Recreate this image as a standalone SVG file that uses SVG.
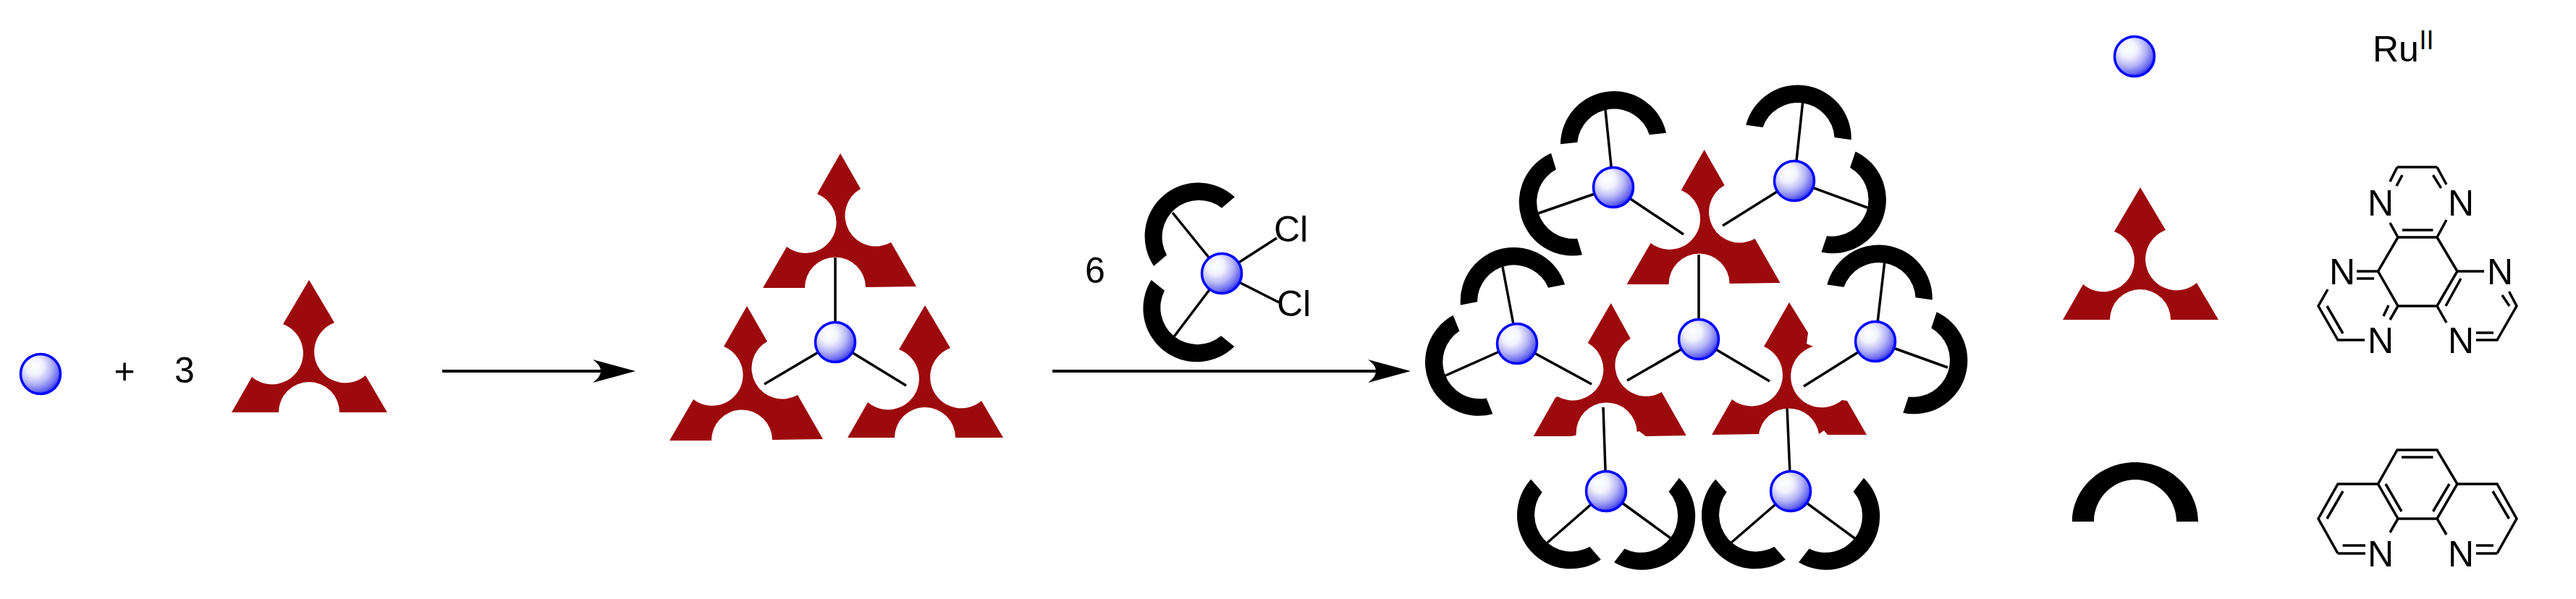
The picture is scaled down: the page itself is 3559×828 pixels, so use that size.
<svg xmlns="http://www.w3.org/2000/svg" xmlns:xlink="http://www.w3.org/1999/xlink" width="3559" height="828" viewBox="0 0 3559 828">
<style>
text{font-family:"Liberation Sans",Arial,sans-serif;font-size:50px;fill:#000}
.sp{stroke:#000;stroke-width:3.5;fill:none}
.bd{stroke:#000;stroke-width:3.5;fill:none;stroke-linecap:butt;stroke-linejoin:miter}
.ar{stroke:#000;stroke-width:4;fill:none;marker-end:url(#head)}
.red{fill:#9d0a0e}
.blk{fill:#000}
.ball{fill:url(#bg);stroke:#0000ff;stroke-width:3.5}
</style>
<defs>
<radialGradient id="bg" cx="0.36" cy="0.33" r="0.72" fx="0.34" fy="0.3">
<stop offset="0" stop-color="#ffffff"/><stop offset="0.3" stop-color="#f2f2fe"/><stop offset="0.6" stop-color="#b5b5f6"/><stop offset="0.85" stop-color="#6a6af0"/><stop offset="1" stop-color="#2020ee"/>
</radialGradient>
<marker id="head" markerUnits="userSpaceOnUse" markerWidth="60" markerHeight="34" refX="29" refY="17" orient="auto" viewBox="0 0 60 34">
<path d="M0,1L59,17L0,33Q22,17 0,1Z" fill="#000"/>
</marker>
<path id="lig" class="red" d="M0,0L35,59A43,43 0 1 0 78,132L108,183L42,183A42,42 0 0 0 -42,183L-107,183L-79,134A43,43 0 1 0 -36,61Z"/>
<path id="ligA" class="red" d="M0,0L28,49A42.5,42.5 0 1 0 70,123L105,184L35,185A42,42 0 0 0 -49,186L-107,186L-74,129A42.5,42.5 0 1 0 -32,56Z"/>
<path id="ligB" class="red" d="M0,0L26,42L24,57L33,61A43,43 0 1 0 73,135L80,136L107,183L53,183L48,177L41,182A42,42 0 0 0 -42,182L-107,183L-79,134A43,43 0 1 0 -35,61Z"/>
<path id="ligC" class="red" d="M0,0L27,49A42.5,42.5 0 1 0 70,123L104,183L48,184L39,177L36,178A42,42 0 0 0 -48,181L-49,183L-56,184L-107,184L-77,131L-74,129A42.5,42.5 0 1 0 -32,55Z"/>
<path id="arc" class="blk" d="M-87,0C-87,-45 -48,-82 0,-82C48,-82 87,-45 87,0L57,0C57,-32 31,-58 0,-58C-31,-58 -57,-32 -57,0Z"/>
<path id="arc2" class="blk" d="M-73.5,0A74,74 0 0 1 73.5,0L50,0A51,51 0 0 0 -50,0Z"/>
</defs>
<g id="connectors">
<line class="ar" x1="611" y1="513" x2="848" y2="513"/>
<line class="ar" x1="1454" y1="513" x2="1919" y2="513"/>
<path class="sp" d="M1154,356V473M1154,473L1056,531M1154,473L1252,533"/>
<path class="sp" d="M1688,378L1620,294M1688,378L1620,468M1688,378L1764,329M1688,378L1767,418"/>
<path class="sp" d="M2229,259L2218,152M2229,259L2122,296M2229,259L2326,324"/>
<path class="sp" d="M2479,250L2491,138M2479,250L2380,312M2479,250L2580,287"/>
<path class="sp" d="M2347,469V352M2347,469L2248,526M2347,469L2445,527"/>
<path class="sp" d="M2096,475L2076,369M2096,475L1993,521M2096,475L2199,531"/>
<path class="sp" d="M2591,472L2604,360M2591,472L2492,534M2591,472L2691,508"/>
<path class="sp" d="M2219,679L2215,563M2219,679L2138,750M2219,679L2311,746"/>
<path class="sp" d="M2474,679L2469,563M2474,679L2392,750M2474,679L2565,746"/>
</g>
<g id="reactant-metal"><circle class="ball" cx="56" cy="517" r="27.5"/></g>
<g id="plus"><text x="172" y="530" text-anchor="middle">+</text></g>
<g id="three"><text x="241" y="529">3</text></g>
<g id="reactant-ligand"><use href="#lig" transform="translate(427,387)"/></g>
<g id="complex-a">
<use href="#ligA" transform="translate(1161,212)"/>
<use href="#ligA" transform="translate(1032,423)"/>
<use href="#lig" transform="translate(1278,422)"/>
<circle class="ball" cx="1154" cy="473" r="27.5"/>
</g>
<g id="reagent-count"><text x="1499" y="391">6</text></g>
<g id="reagent">
<use href="#arc2" transform="translate(1650,320) rotate(-40.5)"/>
<use href="#arc2" transform="translate(1648,433) rotate(-141.3)"/>
<circle class="ball" cx="1688" cy="378" r="27.5"/>
<text x="1760" y="334">Cl</text>
<text x="1764" y="437">Cl</text>
</g>
<g id="complex-b">
<use href="#ligA" transform="translate(2354.6,207)"/>
<use href="#ligC" transform="translate(2225.7,419)"/>
<use href="#ligB" transform="translate(2472,418)"/>
<use href="#arc2" transform="translate(2229,191.5) rotate(-6)"/>
<use href="#arc2" transform="translate(2164.5,282) rotate(-107)"/>
<use href="#arc2" transform="translate(2485,183) rotate(8)"/>
<use href="#arc2" transform="translate(2540,279) rotate(108.7)"/>
<use href="#arc2" transform="translate(2090,407.5) rotate(-11.2)"/>
<use href="#arc2" transform="translate(2035,504) rotate(-111.9)"/>
<use href="#arc2" transform="translate(2597,404) rotate(8.3)"/>
<use href="#arc2" transform="translate(2652.5,501) rotate(108.4)"/>
<use href="#arc2" transform="translate(2163.5,718) rotate(-131.1)"/>
<use href="#arc2" transform="translate(2275,719) rotate(127.7)"/>
<use href="#arc2" transform="translate(2418.5,718) rotate(-131.1)"/>
<use href="#arc2" transform="translate(2530,719) rotate(127.7)"/>
<circle class="ball" cx="2229" cy="259" r="27.5"/>
<circle class="ball" cx="2479" cy="250" r="27.5"/>
<circle class="ball" cx="2347" cy="469" r="27.5"/>
<circle class="ball" cx="2096" cy="475" r="27.5"/>
<circle class="ball" cx="2591" cy="472" r="27.5"/>
<circle class="ball" cx="2219" cy="679" r="27.5"/>
<circle class="ball" cx="2474" cy="679" r="27.5"/>
</g>
<g id="legend-metal"><circle class="ball" cx="2949" cy="78" r="27.5"/></g>
<g id="legend-ru"><text x="3278" y="85">Ru<tspan x="3342.5" y="68" font-size="36">II</tspan></text></g>
<g id="legend-ligand"><use href="#lig" transform="translate(2957,259)"/></g>
<g id="legend-hat"><path class="bd" d="M3312,231H3367M3312,231L3302,251M3319,242L3311,257M3367,231L3380,255M3361.5,242L3372.6,260M3302,308L3313,328H3367L3380,304M3319,318H3361.5M3313,328L3285.5,375L3313,423H3367L3395,375L3367,328M3400,385L3379,423M3256,375H3285.5M3256,385H3280M3395,375H3432M3216,400L3203,423L3230,470H3267M3215,423L3237,461M3313,423L3302,442M3300,422L3293,437M3367,423L3380,446M3421,470H3450L3477,423L3466.5,403M3421,460H3445M3467,423L3457,408"/>
<text x="3271" y="298">N</text><text x="3382" y="298">N</text><text x="3218" y="393">N</text><text x="3436" y="393">N</text><text x="3271" y="488">N</text><text x="3382" y="488">N</text></g>
<g id="legend-arc"><use href="#arc" transform="translate(2950,721)"/></g>
<g id="legend-phen"><path class="bd" d="M3230,765H3268M3236.6,754H3268M3421,765H3450M3421,754H3445M3302,736L3313,717L3285.5,669L3312,622H3367L3395,669L3367,717L3380,739M3313,717H3367M3318,632H3361.5M3285.5,669H3230L3203,717L3230,765M3395,669H3450L3477,717L3450,765M3237,679L3215,717M3444,679L3466.5,717M3296,669L3318,707M3384,669L3361.5,707"/>
<text x="3271" y="783">N</text><text x="3382" y="783">N</text></g>
</svg>
